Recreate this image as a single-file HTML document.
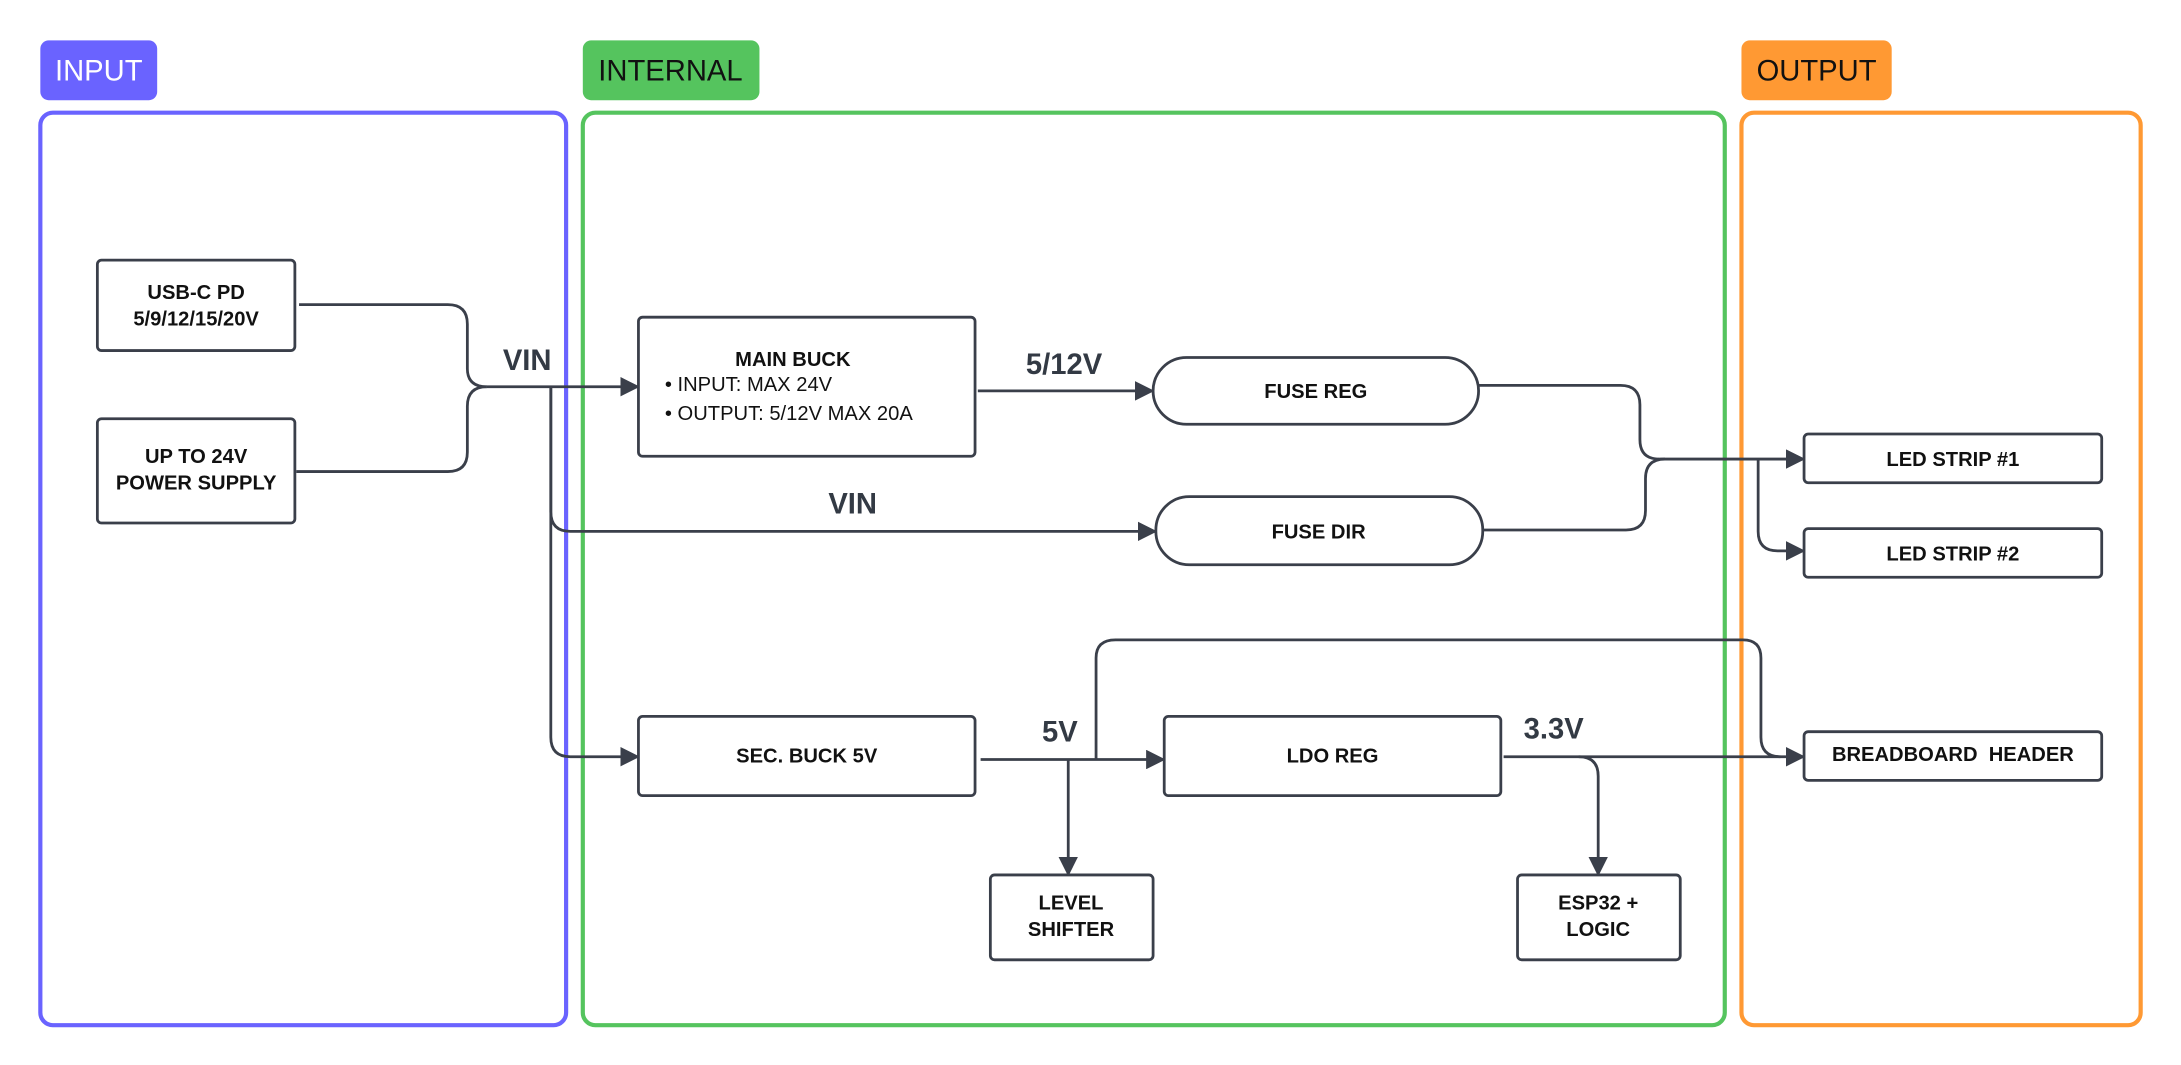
<!DOCTYPE html>
<html><head><meta charset="utf-8"><style>
html,body{margin:0;padding:0;background:#fff;}
svg{display:block;}
text{font-family:"Liberation Sans",Arial,sans-serif;}
.b{font-weight:bold;font-size:14.5px;fill:#111;text-anchor:middle;}
.l{font-weight:bold;font-size:21px;fill:#333a44;text-anchor:middle;}
.box{fill:#fff;stroke:#3a3f4a;stroke-width:2;}
.w{fill:none;stroke:#3a3f4a;stroke-width:2;}
</style></head><body>
<svg width="2181" height="1065" viewBox="0 0 1568 765.6" xmlns="http://www.w3.org/2000/svg">
<defs><marker id="a" markerWidth="14" markerHeight="14" refX="13" refY="7" orient="auto" markerUnits="userSpaceOnUse"><path d="M0,0 L14,7 L0,14 z" fill="#3a3f4a"/></marker></defs>
<!-- badges -->
<rect x="29" y="29" width="84" height="43" rx="6" fill="#6a63ff"/>
<text x="71" y="58" font-size="21" fill="#fff" text-anchor="middle">INPUT</text>
<rect x="419" y="29" width="127" height="43" rx="6" fill="#55c45e"/>
<text x="482" y="58" font-size="21" fill="#111" text-anchor="middle">INTERNAL</text>
<rect x="1252" y="29" width="108" height="43" rx="6" fill="#ff9933"/>
<text x="1306" y="58" font-size="21" fill="#111" text-anchor="middle">OUTPUT</text>
<!-- panels -->
<rect x="29" y="81" width="378" height="656" rx="9" fill="none" stroke="#6a63ff" stroke-width="3"/>
<rect x="419" y="81" width="821" height="656" rx="9" fill="none" stroke="#55c45e" stroke-width="3"/>
<rect x="1252" y="81" width="287" height="656" rx="9" fill="none" stroke="#ff9933" stroke-width="3"/>
<!-- wires -->
<path class="w" d="M215,219 H322 Q336,219 336,233 V265 Q336,278 350,278"/>
<path class="w" d="M213,339 H322 Q336,339 336,325 V292 Q336,278 350,278"/>
<path class="w" marker-end="url(#a)" d="M350,278 H459"/>
<path class="w" marker-end="url(#a)" d="M396,278 V368 Q396,382 410,382 H831"/>
<path class="w" marker-end="url(#a)" d="M396,278 V530 Q396,544 410,544 H459"/>
<path class="w" marker-end="url(#a)" d="M703,281 H829"/>
<path class="w" marker-end="url(#a)" d="M705,546 H837"/>
<path class="w" d="M788,546 V473 Q788,460 802,460 H1253 Q1266,460 1266,473 V530 Q1266,544 1280,544"/>
<path class="w" marker-end="url(#a)" d="M768,546 V629"/>
<path class="w" marker-end="url(#a)" d="M1081,544 H1297"/>
<path class="w" marker-end="url(#a)" d="M1135,544 Q1149,544 1149,558 V629"/>
<path class="w" d="M1063,277 H1165 Q1179,277 1179,291 V316 Q1179,330 1193,330"/>
<path class="w" d="M1066,381 H1169 Q1183,381 1183,367 V344 Q1183,330 1197,330"/>
<path class="w" marker-end="url(#a)" d="M1193,330 H1297"/>
<path class="w" marker-end="url(#a)" d="M1264,330 V382 Q1264,396 1278,396 H1297"/>
<!-- labels -->
<text class="l" x="379" y="266">VIN</text>
<text class="l" x="765" y="269">5/12V</text>
<text class="l" x="613" y="369">VIN</text>
<text class="l" x="762" y="533">5V</text>
<text class="l" x="1117" y="531">3.3V</text>
<!-- boxes -->
<rect class="box" x="70" y="187" width="142" height="65" rx="3"/>
<text class="b" x="141" y="215">USB-C PD</text><text class="b" x="141" y="234">5/9/12/15/20V</text>
<rect class="box" x="70" y="301" width="142" height="75" rx="3"/>
<text class="b" x="141" y="333">UP TO 24V</text><text class="b" x="141" y="352">POWER SUPPLY</text>
<rect class="box" x="459" y="228" width="242" height="100" rx="3"/>
<text class="b" x="570" y="263">MAIN BUCK</text>
<text x="478" y="281" font-size="14.5" fill="#111">•  INPUT: MAX 24V</text>
<text x="478" y="302" font-size="14.5" fill="#111">•  OUTPUT: 5/12V MAX 20A</text>
<rect class="box" x="829" y="257" width="234" height="48" rx="24"/>
<text class="b" x="946" y="286">FUSE REG</text>
<rect class="box" x="831" y="357" width="235" height="49" rx="24"/>
<text class="b" x="948" y="387">FUSE DIR</text>
<rect class="box" x="459" y="515" width="242" height="57" rx="3"/>
<text class="b" x="580" y="548">SEC. BUCK 5V</text>
<rect class="box" x="837" y="515" width="242" height="57" rx="3"/>
<text class="b" x="958" y="548">LDO REG</text>
<rect class="box" x="712" y="629" width="117" height="61" rx="3"/>
<text class="b" x="770" y="654">LEVEL</text><text class="b" x="770" y="673">SHIFTER</text>
<rect class="box" x="1091" y="629" width="117" height="61" rx="3"/>
<text class="b" x="1149" y="654">ESP32 +</text><text class="b" x="1149" y="673">LOGIC</text>
<rect class="box" x="1297" y="312" width="214" height="35" rx="3"/>
<text class="b" x="1404" y="335">LED STRIP #1</text>
<rect class="box" x="1297" y="380" width="214" height="35" rx="3"/>
<text class="b" x="1404" y="403">LED STRIP #2</text>
<rect class="box" x="1297" y="526" width="214" height="35" rx="3"/>
<text class="b" x="1404" y="547" xml:space="preserve">BREADBOARD  HEADER</text>
</svg>
</body></html>
